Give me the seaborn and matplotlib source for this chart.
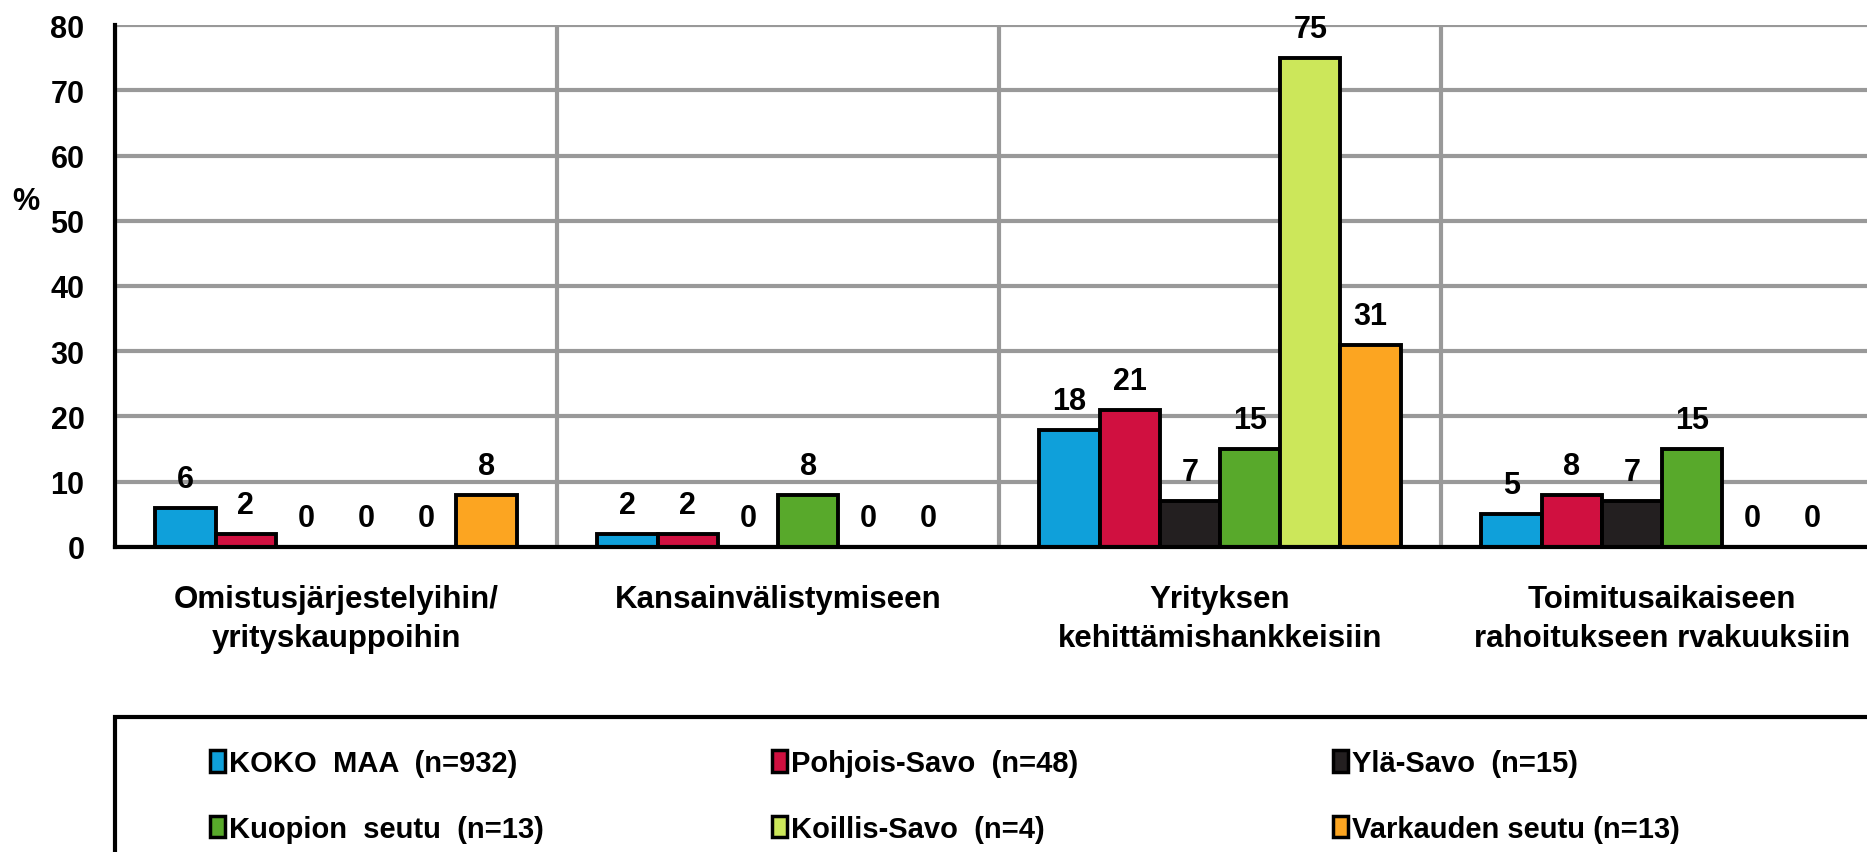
import pandas as pd
import matplotlib.pyplot as plt
import seaborn as sns
from matplotlib.patches import Patch, Rectangle
from matplotlib.ticker import FixedLocator

# Data
categories = ["Omistusjärjestelyihin/\nyrityskauppoihin",
              "Kansainvälistymiseen",
              "Yrityksen\nkehittämishankkeisiin",
              "Toimitusaikaiseen\nrahoitukseen rvakuuksiin"]
regions = ["KOKO  MAA  (n=932)", "Pohjois-Savo  (n=48)", "Ylä-Savo  (n=15)",
           "Kuopion  seutu  (n=13)", "Koillis-Savo  (n=4)", "Varkauden seutu (n=13)"]
koko_maa = [6, 2, 18, 5]
pohjois_savo = [2, 2, 21, 8]
yla_savo = [0, 0, 7, 7]
kuopion_seutu = [0, 8, 15, 15]
koillis_savo = [0, 0, 75, 0]
varkauden_seutu = [8, 0, 31, 0]
colors = ["#0FA0DA", "#D01040", "#231F20", "#58A92B", "#CCE75A", "#FCA521"]

series = [koko_maa, pohjois_savo, yla_savo, kuopion_seutu, koillis_savo, varkauden_seutu]
rows = []
for region, values in zip(regions, series):
    for cat, v in zip(categories, values):
        rows.append({"kategoria": cat, "alue": region, "osuus": v})
df = pd.DataFrame(rows)

sns.set_style("white")
plt.rcParams["font.family"] = ["Liberation Sans", "DejaVu Sans"]
plt.rcParams["font.weight"] = "bold"
plt.rcParams["text.color"] = "black"
plt.rcParams["xtick.color"] = "black"
plt.rcParams["ytick.color"] = "black"

fig = plt.figure(figsize=(18.67, 8.53), dpi=100)
ax = fig.add_axes([0.0616, 0.3576, 0.947, 0.6119])

sns.barplot(data=df, x="kategoria", y="osuus", hue="alue", order=categories,
            hue_order=regions, palette=colors, saturation=1, width=0.817,
            edgecolor="black", linewidth=2.8, errorbar=None, legend=False, ax=ax)

# value labels above bars
for cont in ax.containers:
    ax.bar_label(cont, fmt="%d", padding=10, fontsize=22, fontweight="bold", color="black")

ax.set_xlim(-0.5, 3.5)
ax.set_ylim(0, 80)
ax.set_yticks(range(0, 81, 10))
ax.set_yticklabels([str(v) for v in range(0, 81, 10)], fontsize=22, fontweight="bold")
ax.set_xlabel("")
ax.set_ylabel("")

# category labels
ax.set_xticks(range(len(categories)))
ax.set_xticklabels(categories, fontsize=22.5, fontweight="bold", linespacing=1.35, va="top")
ax.tick_params(axis="x", which="major", length=0, pad=27)
ax.xaxis.set_minor_locator(FixedLocator([-0.5, 0.5, 1.5, 2.5, 3.5]))
ax.tick_params(axis="x", which="minor", length=10, width=3, color="black", direction="out")
ax.tick_params(axis="y", length=11, width=3, color="black", direction="out", pad=11)

# grid
ax.set_axisbelow(True)
ax.yaxis.grid(True, color="#999999", linewidth=3)
ax.xaxis.grid(True, which="minor", color="#999999", linewidth=3)
ax.xaxis.grid(False, which="major")

for side in ["top", "right"]:
    ax.spines[side].set_visible(False)
for side in ["left", "bottom"]:
    ax.spines[side].set_color("black")
    ax.spines[side].set_linewidth(3)

fig.text(26 / 1867, 1 - 202 / 853, "%", ha="center", va="center", fontsize=22, fontweight="bold")

# legend box
fig.add_artist(Rectangle((115 / 1867, -0.05), 1.2, (853 - 718) / 853 + 0.05,
                         transform=fig.transFigure, fill=False, edgecolor="black", linewidth=3))

col_x = [210, 772, 1333]
for i in range(3):
    idx = [i, i + 3]
    handles = [Patch(facecolor=colors[j], edgecolor="black", linewidth=2.5) for j in idx]
    labels = [regions[j] for j in idx]
    fig.legend(handles, labels, loc="center left",
               bbox_to_anchor=(col_x[i] / 1867, (853 - 797) / 853),
               frameon=False, handlelength=0.5, handleheight=0.75,
               handletextpad=0.15, labelspacing=1.3, borderpad=0, borderaxespad=0,
               prop={"weight": "bold", "size": 21})

fig.savefig("out.png", dpi=100)
